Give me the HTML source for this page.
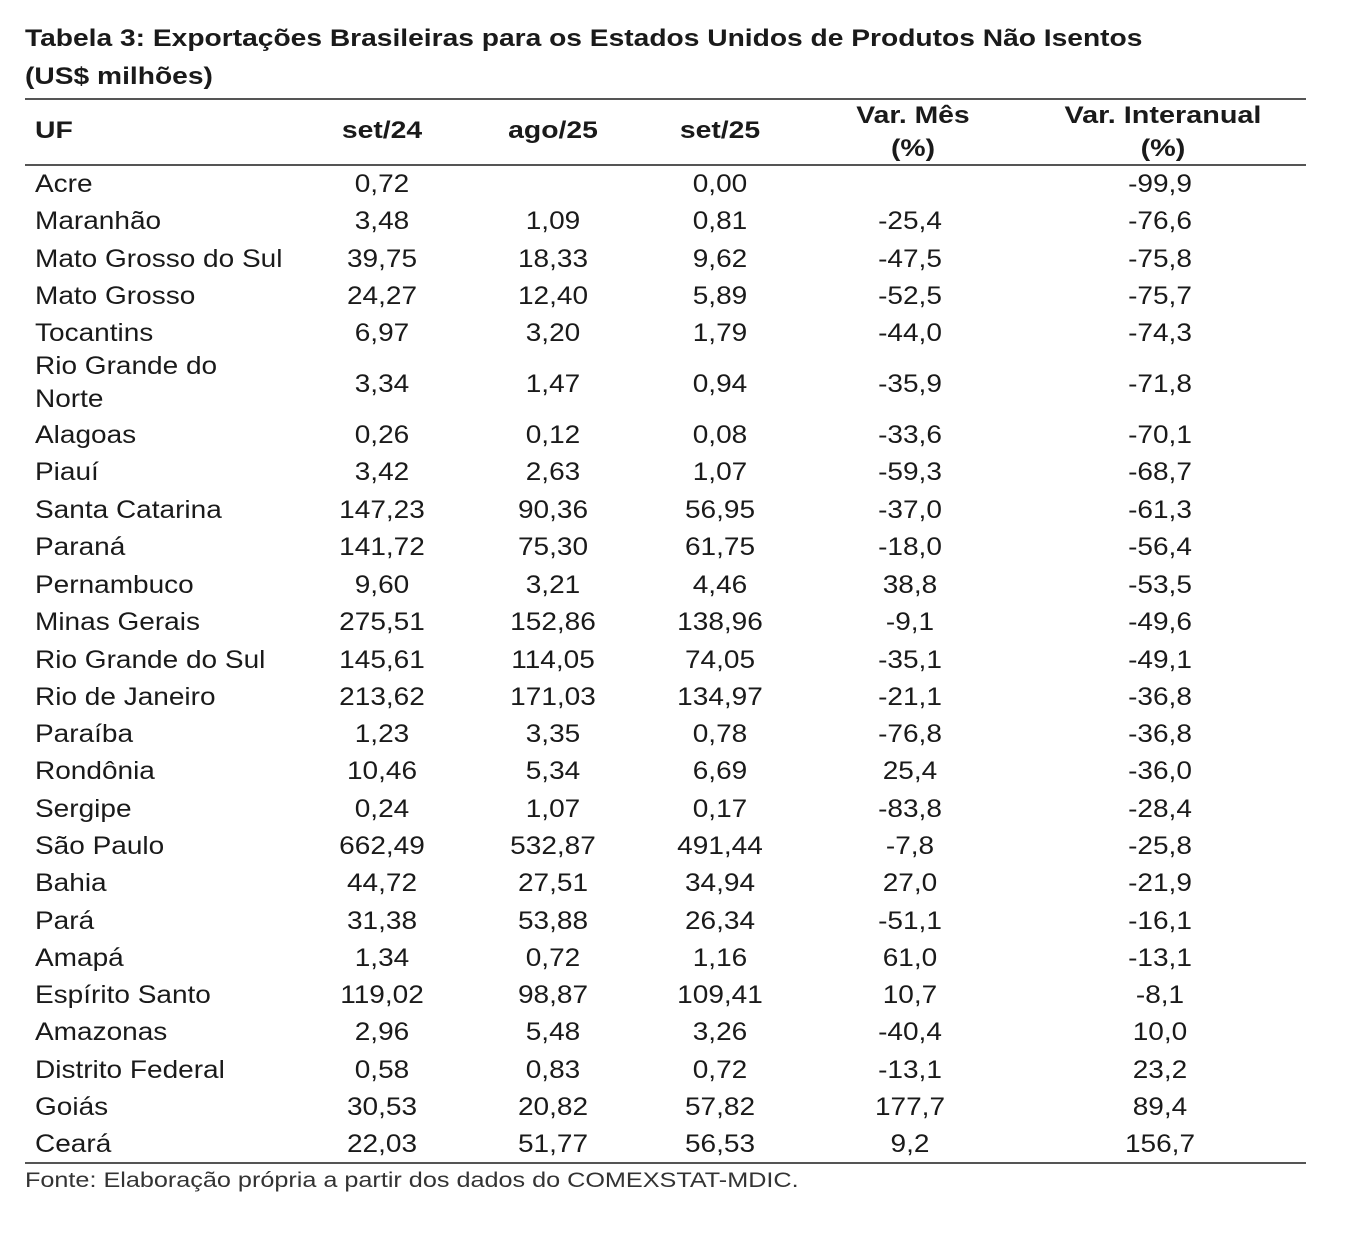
<!DOCTYPE html>
<html><head><meta charset="utf-8"><style>
body{margin:0;background:#fff;width:1354px;height:1244px;position:relative;font-family:"Liberation Sans",Arial,sans-serif;color:#1a1a1a;overflow:hidden}
.t{position:absolute;left:25px;font-weight:bold;font-size:24.5px;line-height:30px;transform:scaleX(1.15);transform-origin:left center;white-space:nowrap}
.rule{position:absolute;left:25px;width:1281px;height:2px;background:#555}
.r{position:absolute;left:0;width:1354px;height:38px;line-height:38px;font-size:25px}
.r span{position:absolute;text-align:center;white-space:nowrap;transform:scaleX(1.12);transform-origin:center center}
.r .u{left:35px;text-align:left;transform-origin:left center}
.c1{left:312px;width:140px}.c2{left:483px;width:140px}.c3{left:650px;width:140px}.c4{left:840px;width:140px}.c5{left:1090px;width:140px}
.h{font-weight:bold;font-size:24px}
.r.h span{transform:scaleX(1.18)}
</style></head><body>
<div class="t" style="top:24px">Tabela 3: Exportações Brasileiras para os Estados Unidos de Produtos Não Isentos</div>
<div class="t" style="top:62px">(US$ milhões)</div>
<div class="rule" style="top:98px"></div>
<div class="r h" style="top:112px"><span class="u">UF</span><span class="c1">set/24</span><span class="c2">ago/25</span><span class="c3">set/25</span></div>
<div class="h" style="position:absolute;left:843px;width:140px;top:99px;text-align:center;line-height:33px;transform:scaleX(1.18)">Var. Mês<br>(%)</div>
<div class="h" style="position:absolute;left:1063px;width:200px;top:99px;text-align:center;line-height:33px;transform:scaleX(1.2)">Var. Interanual<br>(%)</div>
<div class="rule" style="top:164px"></div>
<div id="rows"></div>
<div style="position:absolute;left:35px;top:350px;font-size:25px;line-height:33px;transform:scaleX(1.12);transform-origin:left center">Rio Grande do<br>Norte</div>
<div class="rule" style="top:1162px"></div>
<div style="position:absolute;left:25px;top:1168px;font-size:21px;line-height:26px;color:#333;transform:scaleX(1.2);transform-origin:left center;white-space:nowrap">Fonte: Elaboração própria a partir dos dados do COMEXSTAT-MDIC.</div>
<script>
var d=[
[184,"Acre","0,72","","0,00","","-99,9"],
[221,"Maranhão","3,48","1,09","0,81","-25,4","-76,6"],
[259,"Mato Grosso do Sul","39,75","18,33","9,62","-47,5","-75,8"],
[296,"Mato Grosso","24,27","12,40","5,89","-52,5","-75,7"],
[333,"Tocantins","6,97","3,20","1,79","-44,0","-74,3"],
[384,"","3,34","1,47","0,94","-35,9","-71,8"],
[435,"Alagoas","0,26","0,12","0,08","-33,6","-70,1"],
[472,"Piauí","3,42","2,63","1,07","-59,3","-68,7"],
[510,"Santa Catarina","147,23","90,36","56,95","-37,0","-61,3"],
[547,"Paraná","141,72","75,30","61,75","-18,0","-56,4"],
[585,"Pernambuco","9,60","3,21","4,46","38,8","-53,5"],
[622,"Minas Gerais","275,51","152,86","138,96","-9,1","-49,6"],
[660,"Rio Grande do Sul","145,61","114,05","74,05","-35,1","-49,1"],
[697,"Rio de Janeiro","213,62","171,03","134,97","-21,1","-36,8"],
[734,"Paraíba","1,23","3,35","0,78","-76,8","-36,8"],
[771,"Rondônia","10,46","5,34","6,69","25,4","-36,0"],
[809,"Sergipe","0,24","1,07","0,17","-83,8","-28,4"],
[846,"São Paulo","662,49","532,87","491,44","-7,8","-25,8"],
[883,"Bahia","44,72","27,51","34,94","27,0","-21,9"],
[921,"Pará","31,38","53,88","26,34","-51,1","-16,1"],
[958,"Amapá","1,34","0,72","1,16","61,0","-13,1"],
[995,"Espírito Santo","119,02","98,87","109,41","10,7","-8,1"],
[1032,"Amazonas","2,96","5,48","3,26","-40,4","10,0"],
[1070,"Distrito Federal","0,58","0,83","0,72","-13,1","23,2"],
[1107,"Goiás","30,53","20,82","57,82","177,7","89,4"],
[1144,"Ceará","22,03","51,77","56,53","9,2","156,7"]];
var h="";d.forEach(function(r){h+='<div class="r" style="top:'+(r[0]-19)+'px"><span class="u">'+r[1]+'</span><span class="c1">'+r[2]+'</span><span class="c2">'+r[3]+'</span><span class="c3">'+r[4]+'</span><span class="c4">'+r[5]+'</span><span class="c5">'+r[6]+'</span></div>';});
document.getElementById("rows").innerHTML=h;
</script>
</body></html>
